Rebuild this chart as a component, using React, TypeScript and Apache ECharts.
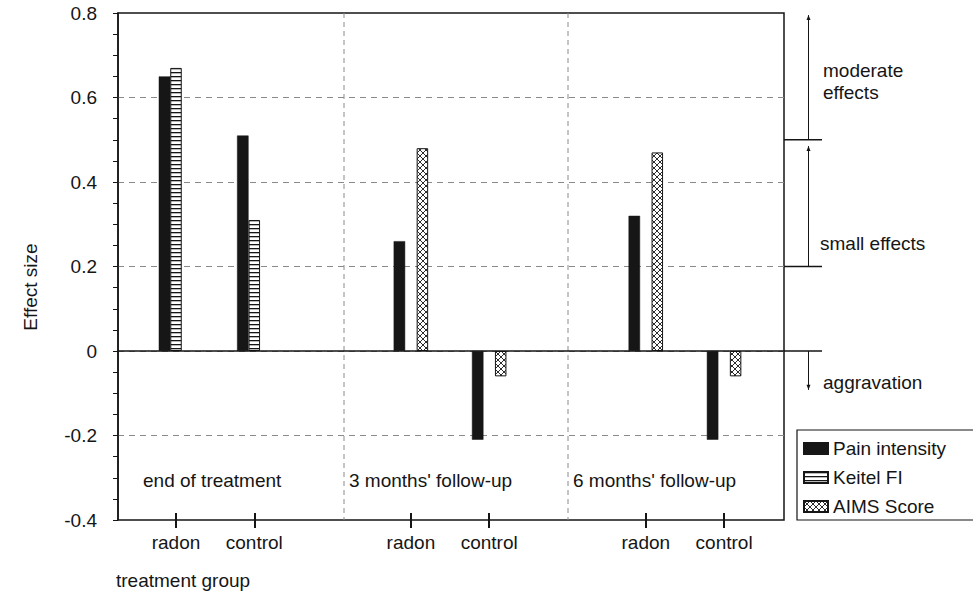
import React, { useEffect, useRef } from 'react';
import * as echarts from 'echarts';

// ---- data ----
const categories = ['radon', 'control', '', 'radon', 'control', '', 'radon', 'control'];
const seriesNames = ['Pain intensity', 'Keitel FI', 'AIMS Score'];
const painIntensity = [0.65, 0.51, null, 0.26, -0.21, null, 0.32, -0.21];
const keitelFI = [0.67, 0.31, null, null, null, null, null, null];
const aimsScore = [null, null, null, 0.48, -0.06, null, 0.47, -0.06];
const yMin = -0.4;
const yMax = 0.8;
const yStep = 0.2;
const groupLabels = ["end of treatment", "3 months' follow-up", "6 months' follow-up"];
const bandLabels = ['moderate\neffects', 'small effects', 'aggravation'];
const bandThresholds = [0.5, 0.2, 0];
const bandArrowFrom = [0.5, 0.2, 0];
const bandArrowTo = [0.795, 0.485, -0.092];
const xTitle = 'treatment group';
const yTitle = 'Effect size';

const FONT = "'Liberation Sans', Arial, sans-serif";
const INK = '#151515';

const svgUrl = (s: string) => 'data:image/svg+xml;charset=utf-8,' + encodeURIComponent(s);
const stripePattern = {
  image: svgUrl("<svg xmlns='http://www.w3.org/2000/svg' width='6' height='4'><rect width='6' height='4' fill='white'/><rect y='0' width='6' height='1.3' fill='#151515'/></svg>"),
  repeat: 'repeat',
  imageWidth: 6,
  imageHeight: 4,
};
const hatchPattern = {
  image: svgUrl("<svg xmlns='http://www.w3.org/2000/svg' width='6' height='6'><rect width='6' height='6' fill='white'/><path d='M0 0L6 6M6 0L0 6' stroke='#151515' stroke-width='0.9'/></svg>"),
  repeat: 'repeat',
  imageWidth: 6,
  imageHeight: 6,
};

export default function App() {
  const ref = useRef<HTMLDivElement>(null);
  useEffect(() => {
    if (!ref.current) return;
    const chart = echarts.init(ref.current, null, { renderer: 'svg' });
    const tickInterval = (_i: number, v: string) => v !== '';
    const option: any = {
      animation: false,
      textStyle: { fontFamily: FONT, color: INK },
      title: {
        text: xTitle,
        left: 116,
        top: 571,
        padding: 0,
        textStyle: { fontFamily: FONT, fontSize: 19, fontWeight: 'normal', color: INK },
      },
      legend: {
        orient: 'vertical',
        left: 797,
        top: 430,
        data: seriesNames,
        icon: 'rect',
        itemWidth: 24,
        itemHeight: 11,
        itemGap: 10,
        padding: [9, 50, 4, 6],
        borderColor: INK,
        borderWidth: 1.2,
        selectedMode: false,
        textStyle: { fontFamily: FONT, fontSize: 19, color: INK },
      },
      grid: [
        { left: 118, top: 13, width: 666, height: 507, show: true, borderColor: INK, borderWidth: 1.5, backgroundColor: 'transparent' },
        { left: 136.85, top: 13, width: 626.4, height: 507 },
      ],
      xAxis: [
        {
          gridIndex: 0, type: 'value', min: 0, max: 1, z: 3,
          axisLine: { show: true, onZero: true, lineStyle: { color: INK, width: 1.5 } },
          axisTick: { show: false }, axisLabel: { show: false }, splitLine: { show: false },
        },
        {
          gridIndex: 1, type: 'category', data: categories, position: 'bottom',
          axisLine: { show: false, onZero: false },
          axisTick: { show: true, alignWithLabel: true, interval: tickInterval, length: 8, lineStyle: { color: INK, width: 2 } },
          axisLabel: { interval: 0, margin: 13, fontSize: 19, color: INK, fontFamily: FONT },
          splitLine: { show: false },
        },
        {
          gridIndex: 1, type: 'category', data: categories, position: 'bottom',
          axisLine: { show: false, onZero: false },
          axisTick: { show: true, inside: true, alignWithLabel: true, interval: tickInterval, length: 7, lineStyle: { color: INK, width: 2 } },
          axisLabel: { show: false },
          splitLine: { show: false },
        },
      ],
      yAxis: [
        {
          gridIndex: 0, type: 'value', min: yMin, max: yMax, interval: yStep,
          axisLine: { show: true, lineStyle: { color: INK, width: 1.5 } },
          axisTick: { show: true, length: 5, lineStyle: { color: INK } },
          minorTick: { show: true, splitNumber: 4, length: 5, lineStyle: { color: INK } },
          axisLabel: {
            fontSize: 19, color: INK, margin: 21, fontFamily: FONT,
            formatter: (v: number) => String(Math.round(v * 10) / 10),
          },
          splitLine: { show: true, showMinLine: false, showMaxLine: false, lineStyle: { color: '#8a8a8a', type: [6, 5], width: 1 } },
        },
        { gridIndex: 1, type: 'value', min: yMin, max: yMax, interval: yStep, show: false },
      ],
      series: [
        {
          name: seriesNames[0], type: 'bar', xAxisIndex: 1, yAxisIndex: 1, data: painIntensity,
          barWidth: 11.5, barGap: '0%', itemStyle: { color: '#161616', borderColor: '#161616', borderWidth: 0.5 },
        },
        {
          name: seriesNames[1], type: 'bar', xAxisIndex: 1, yAxisIndex: 1, data: keitelFI,
          barWidth: 11.5, barGap: '0%', itemStyle: { color: stripePattern, borderColor: INK, borderWidth: 1 },
        },
        {
          name: seriesNames[2], type: 'bar', xAxisIndex: 1, yAxisIndex: 1, data: aimsScore,
          barWidth: 11.5, barGap: '0%', itemStyle: { color: hatchPattern, borderColor: INK, borderWidth: 1 },
        },
      ],
    };
    chart.setOption(option);

    const py = (v: number) => chart.convertToPixel({ yAxisIndex: 0 } as any, v) as number;
    const top = py(yMax);
    const bottom = py(yMin);
    const frameRight = 784;
    const elements: any[] = [];
    // y-axis title
    elements.push({
      type: 'text', silent: true, z: 10, x: 30, y: 287, rotation: Math.PI / 2,
      style: { text: yTitle, fontSize: 19, fontFamily: FONT, fill: INK, align: 'center', verticalAlign: 'middle' },
    });
    // group separators
    [344, 568].forEach((x) => {
      elements.push({
        type: 'line', silent: true, z: 1,
        shape: { x1: x, y1: top, x2: x, y2: bottom },
        style: { stroke: '#8a8a8a', lineWidth: 1, lineDash: [5, 4] },
      });
    });
    // group labels
    const groupX = [143, 349, 573];
    groupLabels.forEach((t, i) => {
      elements.push({
        type: 'text', silent: true, z: 10, x: groupX[i], y: 480,
        style: { text: t, fontSize: 19, fontFamily: FONT, fill: INK, verticalAlign: 'middle', align: 'left' },
      });
    });
    // band threshold lines
    bandThresholds.forEach((v) => {
      const y = py(v);
      elements.push({
        type: 'line', silent: true, z: 10,
        shape: { x1: frameRight, y1: y, x2: 822, y2: y },
        style: { stroke: INK, lineWidth: 1.5 },
      });
    });
    // arrows
    const ax = 808.5;
    bandArrowFrom.forEach((f, i) => {
      const y1 = py(f);
      const y2 = py(bandArrowTo[i]);
      const dir = y2 < y1 ? -1 : 1;
      elements.push({
        type: 'line', silent: true, z: 10,
        shape: { x1: ax, y1, x2: ax, y2 },
        style: { stroke: INK, lineWidth: 1 },
      });
      elements.push({
        type: 'polygon', silent: true, z: 10,
        shape: { points: [[ax - 2, y2 - dir * 5], [ax, y2], [ax + 2, y2 - dir * 5]] },
        style: { fill: INK },
      });
    });
    // band labels
    const bandLabelX = [823, 820, 823];
    const bandLabelY = [81, 243, 382];
    bandLabels.forEach((t, i) => {
      elements.push({
        type: 'text', silent: true, z: 10, x: bandLabelX[i], y: bandLabelY[i],
        style: { text: t, fontSize: 19, lineHeight: 22, fontFamily: FONT, fill: INK, verticalAlign: 'middle', align: 'left' },
      });
    });
    chart.setOption({ graphic: { elements } });

    return () => chart.dispose();
  }, []);
  return <div ref={ref} style={{ position: 'fixed', left: 0, top: 0, width: 973, height: 594, background: '#fff' }} />;
}
